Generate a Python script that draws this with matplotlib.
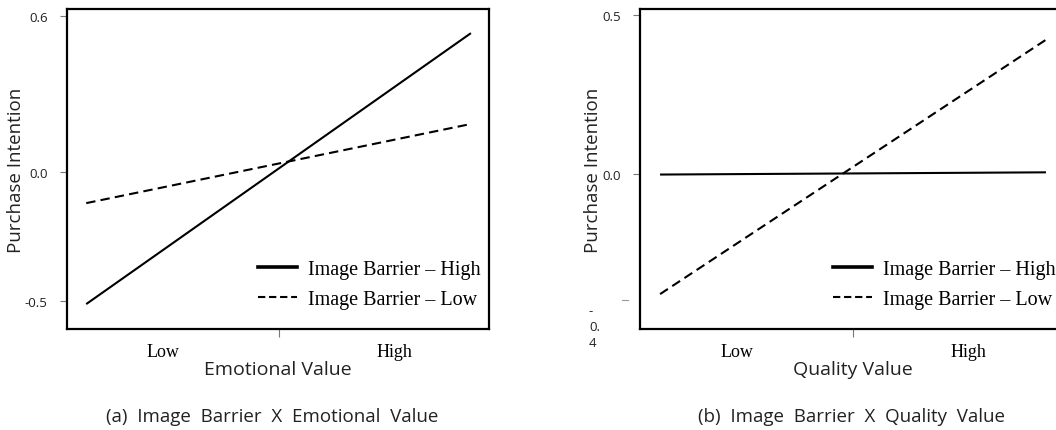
import matplotlib

matplotlib.use("Agg")
import matplotlib.pyplot as plt
import matplotlib.transforms as mtransforms
from matplotlib.lines import Line2D

# simple slopes at low / high level of the moderator
levels = [0, 1]
level_labels = ["Low", "High"]
series_names = ["Image Barrier – High", "Image Barrier – Low"]

emo_high = [-0.51, 0.534]
emo_low = [-0.121, 0.184]
qual_high = [-0.003, 0.004]
qual_low = [-0.380, 0.422]

emo_yticks = [-0.5, 0.0, 0.6]
qual_yticks = [0.0, 0.5]

SANS = ["Open Sans", "DejaVu Sans"]
SERIF = ["Liberation Serif", "DejaVu Serif"]

fig = plt.figure(figsize=(10.56, 4.31), dpi=100)


def draw_panel(ax, high, low, yticks, ylim, xlabel, caption, cap_x):
    ax.plot(levels, high, color="black", lw=1.5, solid_capstyle="butt")
    ax.plot(levels, low, color="black", lw=1.5, linestyle=(0, (4.5, 2.5)))
    ax.set_xlim(-0.05, 1.047)
    ax.set_ylim(*ylim)

    ax.set_xticks([0.5])
    ax.set_xticklabels([""])
    ax.set_xticks([0.2, 0.8], minor=True)
    ax.set_xticklabels(level_labels, minor=True, family=SERIF, fontsize=13)
    ax.tick_params(axis="x", which="minor", length=0, pad=10)
    ax.tick_params(axis="x", which="major", length=6, width=0.8, color="#777777")

    ax.set_yticks(yticks)
    ax.set_yticklabels([f"{v:.1f}" for v in yticks], family=SANS, fontsize=9.5,
                       color="#222222")
    ax.tick_params(axis="y", length=5, width=0.8, color="#777777", pad=9)

    for sp in ax.spines.values():
        sp.set_linewidth(1.6)

    ax.set_xlabel(xlabel, family=SANS, fontsize=14, labelpad=0, color="#222222")
    ax.set_ylabel("Purchase Intention", family=SANS, fontsize=13.5, labelpad=0,
                  color="#222222")

    handles = [
        Line2D([], [], color="black", lw=2.6),
        Line2D([], [], color="black", lw=1.5, linestyle=(0, (3.5, 1.8))),
    ]
    ax.legend(
        handles,
        series_names,
        loc="upper left",
        bbox_to_anchor=(0.452, 0.215),
        frameon=False,
        prop={"family": SERIF, "size": 14.5},
        handlelength=1.95,
        handletextpad=0.55,
        labelspacing=0.55,
        borderpad=0,
        borderaxespad=0,
    )

    fig.text(cap_x, 0.032, caption, family=SANS, fontsize=13.5, ha="center",
             va="center", color="#222222")


ax1 = fig.add_axes([67 / 1056, 101 / 431, 422 / 1056, 320 / 431])
draw_panel(ax1, emo_high, emo_low, emo_yticks, (-0.606, 0.627),
           "Emotional Value", "(a)  Image  Barrier  X  Emotional  Value", 272 / 1056)

ax2 = fig.add_axes([640 / 1056, 101 / 431, 426 / 1056, 320 / 431])
draw_panel(ax2, qual_high, qual_low, qual_yticks, (-0.490, 0.519),
           "Quality Value", "(b)  Image  Barrier  X  Quality  Value", 852 / 1056)
ax2.set_xlim(-0.052, 1.052)

# wrapped "-0.4" tick label of the right panel and its stray tick dash
trans = mtransforms.blended_transform_factory(ax2.transAxes, ax2.transData)
ax2.text(-0.12, -0.41, "-\n0.\n4", transform=trans, ha="left", va="top",
         family=SANS, fontsize=9.5, color="#222222", linespacing=1.3)
ax2.plot([-0.042, -0.028], [-0.4, -0.4], transform=trans, color="#999999",
         lw=0.8, clip_on=False)

fig.savefig("out.png", dpi=100)
